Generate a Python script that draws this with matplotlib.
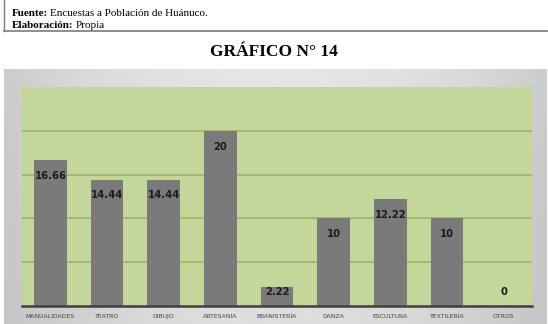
import numpy as np
import matplotlib.pyplot as plt

categorias = ['MANUALIDADES', 'TEATRO', 'DIBUJO', 'ARTESANÍA', 'EBANISTERÍA',
              'DANZA', 'ESCULTURA', 'TEXTILERÍA', 'OTROS']
valores = [16.66, 14.44, 14.44, 20, 2.22, 10, 12.22, 10, 0]
etiquetas = ['16.66', '14.44', '14.44', '20', '2.22', '10', '12.22', '10', '0']

W, H = 548, 324
fig = plt.figure(figsize=(W / 100, H / 100), dpi=100)
fig.patch.set_facecolor('white')
renderer = fig.canvas.get_renderer()

# header box (source notes)
fig.add_artist(plt.Line2D([4 / W, 4 / W], [1, 1 - 31 / H], color='#7a7a7a', lw=1))
fig.add_artist(plt.Line2D([4 / W, 547 / W], [1 - 31 / H, 1 - 31 / H], color='#7a7a7a', lw=1.2))


def nota(y, negrita, normal):
    t = fig.text(12 / W, 1 - y / H, negrita, fontsize=8, family='Liberation Serif',
                 weight='bold', va='center')
    x1 = t.get_window_extent(renderer).x1
    fig.text((x1 + 2) / W, 1 - y / H, normal, fontsize=8, family='Liberation Serif',
             va='center')


nota(13, 'Fuente:', 'Encuestas a Población de Huánuco.')
nota(25, 'Elaboración:', 'Propia')

fig.text(0.5, 1 - 52 / H, 'GRÁFICO N° 14', fontsize=12.5, family='Liberation Serif',
         weight='bold', ha='center', va='center')

# chart frame with gray gradient
bg = fig.add_axes([4 / W, 0, 543 / W, (H - 69) / H])
x = np.linspace(-1, 1, 300)
y = np.linspace(0, 1, 100)
X, Y = np.meshgrid(x, y)
grad = 0.90 - 0.10 * np.abs(X) ** 2 - 0.03 * Y
bg.imshow(grad, cmap='gray', vmin=0, vmax=1, aspect='auto', extent=[0, 1, 0, 1])
bg.axis('off')

ax = fig.add_axes([22 / W, 18 / H, 510 / W, 219 / H])
ax.set_facecolor('#c4d79b')
pos = np.arange(len(categorias))
ax.bar(pos, valores, width=0.58, color='#7a7a7a', zorder=3)
ax.set_xlim(-0.5, len(categorias) - 0.5)
ax.set_ylim(0, 25)
ax.set_yticks([5, 10, 15, 20])
ax.yaxis.grid(True, color='#a3b872', lw=1.4, zorder=1)
ax.tick_params(axis='y', length=0, labelleft=False)
ax.tick_params(axis='x', length=0, pad=6)
ax.set_xticks(pos)
ax.set_xticklabels(categorias, fontsize=4.4, color='#404040')
for s in ['top', 'left', 'right']:
    ax.spines[s].set_visible(False)
ax.spines['bottom'].set_color('#404040')
ax.spines['bottom'].set_linewidth(1.8)
ax.spines['bottom'].set_zorder(4)

for p, v, t in zip(pos, valores, etiquetas):
    ax.text(p, max(v - 1.8, 1.6), t, ha='center', va='center', fontsize=7.2,
            weight='bold', color='#1a1a1a', zorder=5)

fig.savefig('out.png', dpi=100)
